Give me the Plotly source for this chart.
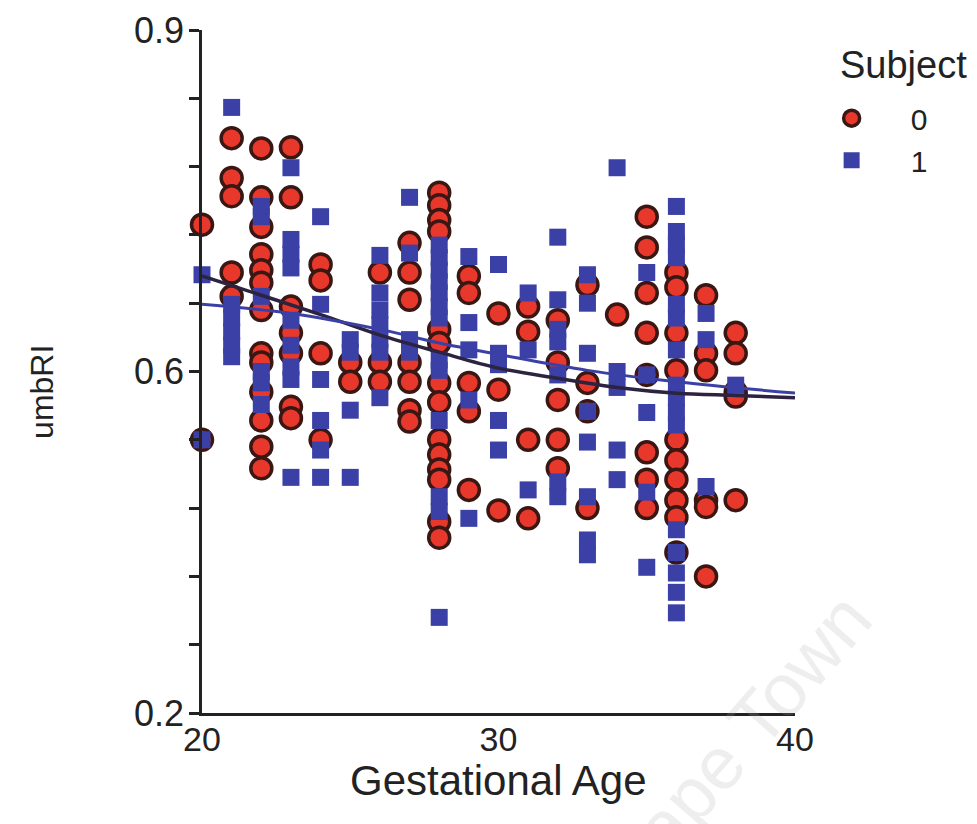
import plotly.graph_objects as go

# Subject 0 measurements (gestational age in weeks, umbilical artery RI)
ga_0 = (
    [20]
    + [21] * 5
    + [22] * 13
    + [23] * 7
    + [24] * 4
    + [25] * 2
    + [26] * 3
    + [27] * 7
    + [28] * 14
    + [29] * 5
    + [30] * 3
    + [31] * 4
    + [32] * 5
    + [33] * 4
    + [34] * 1
    + [35] * 8
    + [36] * 10
    + [37] * 6
    + [38] * 5
    + [20]
)
umbri_0 = [
    0.729,
    0.805, 0.770, 0.754, 0.687, 0.666,
    0.796, 0.753, 0.727, 0.703, 0.689, 0.678, 0.654, 0.616, 0.608, 0.582, 0.557, 0.534, 0.515,
    0.797, 0.753, 0.657, 0.634, 0.616, 0.569, 0.559,
    0.694, 0.680, 0.616, 0.540,
    0.608, 0.591,
    0.687, 0.608, 0.591,
    0.713, 0.687, 0.663, 0.608, 0.591, 0.566, 0.556,
    0.757, 0.746, 0.733, 0.723, 0.637, 0.625, 0.590, 0.573, 0.540, 0.527, 0.514, 0.505, 0.468, 0.454,
    0.684, 0.669, 0.590, 0.565, 0.496,
    0.651, 0.584, 0.478,
    0.657, 0.635, 0.540, 0.471,
    0.645, 0.608, 0.575, 0.540, 0.515,
    0.676, 0.590, 0.565, 0.480,
    0.650,
    0.736, 0.709, 0.669, 0.634, 0.597, 0.529, 0.505, 0.480,
    0.687, 0.674, 0.634, 0.601, 0.540, 0.522, 0.505, 0.487, 0.472, 0.441,
    0.667, 0.616, 0.601, 0.487, 0.481, 0.420,
    0.634, 0.616, 0.582, 0.487, 0.578,
    0.540,
]

# Subject 1 measurements
ga_1 = (
    [20] * 2
    + [21] * 6
    + [22] * 6
    + [23] * 9
    + [24] * 6
    + [25] * 4
    + [26] * 7
    + [27] * 4
    + [28] * 13
    + [29] * 5
    + [30] * 5
    + [31] * 3
    + [32] * 7
    + [33] * 8
    + [34] * 5
    + [35] * 5
    + [36] * 16
    + [37] * 3
    + [38] * 1
)
umbri_1 = [
    0.685, 0.540,
    0.832, 0.659, 0.647, 0.635, 0.623, 0.613,
    0.745, 0.736, 0.666, 0.600, 0.590, 0.571,
    0.779, 0.716, 0.703, 0.691, 0.645, 0.623, 0.604, 0.593, 0.507,
    0.736, 0.659, 0.593, 0.557, 0.531, 0.507,
    0.628, 0.617, 0.566, 0.507,
    0.702, 0.669, 0.654, 0.641, 0.628, 0.617, 0.577,
    0.753, 0.704, 0.628, 0.617,
    0.711, 0.700, 0.689, 0.679, 0.669, 0.657, 0.647, 0.610, 0.601, 0.557, 0.490, 0.477, 0.384,
    0.701, 0.643, 0.619, 0.575, 0.471,
    0.694, 0.616, 0.606, 0.557, 0.531,
    0.669, 0.619, 0.496,
    0.718, 0.663, 0.637, 0.626, 0.597, 0.503, 0.490,
    0.685, 0.660, 0.616, 0.565, 0.538, 0.490, 0.452, 0.439,
    0.779, 0.600, 0.586, 0.531, 0.505,
    0.687, 0.597, 0.564, 0.494, 0.428,
    0.745, 0.723, 0.711, 0.700, 0.659, 0.647, 0.619, 0.588, 0.577, 0.564, 0.553, 0.461, 0.441, 0.423, 0.406, 0.388,
    0.651, 0.628, 0.499,
    0.588,
]

# Fitted trend curves
fit_ga_0 = [20, 22, 24, 26, 28, 30, 32, 34, 36, 38, 40]
fit_ri_0 = [0.684, 0.667, 0.650, 0.632, 0.617, 0.603, 0.594, 0.586, 0.581, 0.579, 0.577]
fit_ga_1 = [20, 23, 26, 28, 30, 33, 36, 40]
fit_ri_1 = [0.659, 0.651, 0.637, 0.625, 0.615, 0.601, 0.591, 0.581]

# Axis ticks
x_ticks = [20, 30, 40]
y_major = [0.9, 0.6, 0.3]
y_major_text = ["0.9", "0.6", "0.2"]

FONT = "Liberation Sans, Arial, sans-serif"
INK = "#222222"
RED = "#e8382b"
RED_EDGE = "#3b1714"
BLUE = "#3b40a6"
DARK_LINE = "#2b2340"

fig = go.Figure()

fig.add_trace(go.Scatter(
    x=ga_0, y=umbri_0, mode="markers", name="0",
    marker=dict(symbol="circle", size=21, color=RED,
                line=dict(color=RED_EDGE, width=3.5)),
    cliponaxis=False,
))
fig.add_trace(go.Scatter(
    x=ga_1, y=umbri_1, mode="markers", name="1",
    marker=dict(symbol="square", size=17, color=BLUE,
                line=dict(color=BLUE, width=0)),
    cliponaxis=False,
))
fig.add_trace(go.Scatter(
    x=fit_ga_0, y=fit_ri_0, mode="lines", showlegend=False,
    line=dict(color=DARK_LINE, width=3.5, shape="spline"),
    cliponaxis=False,
))
fig.add_trace(go.Scatter(
    x=fit_ga_1, y=fit_ri_1, mode="lines", showlegend=False,
    line=dict(color=BLUE, width=3, shape="spline"),
    cliponaxis=False,
))

# Faint diagonal watermark
fig.add_annotation(
    text="Cape Town", xref="paper", yref="paper", x=0.90, y=-0.045,
    xanchor="center", yanchor="middle",
    showarrow=False, textangle=-49,
    font=dict(family=FONT, size=74, color="rgba(170,170,170,0.2)"),
)

# Axis titles and legend heading
fig.add_annotation(
    text="Gestational Age", xref="paper", yref="paper", x=0.5, y=-0.099,
    xanchor="center", yanchor="middle", showarrow=False,
    font=dict(family=FONT, size=42, color=INK),
)
fig.add_annotation(
    text="umbRI", xref="paper", yref="paper", x=-0.27, y=0.47,
    xanchor="center", yanchor="middle", showarrow=False, textangle=-90,
    font=dict(family=FONT, size=32, color=INK),
)
fig.add_annotation(
    text="Subject", xref="paper", yref="paper", x=1.0725, y=0.949,
    xanchor="left", yanchor="middle", showarrow=False,
    font=dict(family=FONT, size=38, color=INK),
)

fig.update_layout(
    width=977, height=824,
    margin=dict(l=202, r=182, t=30, b=111, autoexpand=False),
    paper_bgcolor="white", plot_bgcolor="white",
    font=dict(family=FONT, size=36, color=INK),
    legend=dict(
        x=0.996, y=0.909, xanchor="left", yanchor="top",
        font=dict(size=30, family=FONT),
        itemsizing="trace", tracegroupgap=0, itemwidth=108,
        bgcolor="rgba(0,0,0,0)",
    ),
    xaxis=dict(
        range=[20, 40], tickvals=x_ticks, ticks="", showgrid=False,
        zeroline=False, showline=True, linecolor=INK, linewidth=3,
        tickfont=dict(size=34), ticklabelstandoff=-6,
    ),
    yaxis=dict(
        range=[0.3, 0.9], tickvals=y_major, ticktext=y_major_text,
        ticks="outside", ticklen=10, tickwidth=2.5, tickcolor=INK,
        minor=dict(dtick=0.06, tick0=0.3, ticks="outside", ticklen=10,
                   tickwidth=2.5, tickcolor=INK, showgrid=False),
        showgrid=False, zeroline=False, showline=True,
        linecolor=INK, linewidth=2.5,
        tickfont=dict(size=36), ticklabelstandoff=-2,
    ),
)

fig.write_html("out.html")
